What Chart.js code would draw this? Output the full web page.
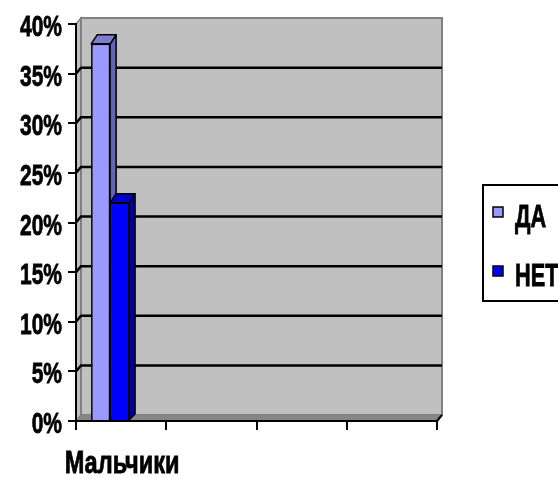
<!DOCTYPE html>
<html>
<head>
<meta charset="utf-8">
<script src="https://cdn.jsdelivr.net/npm/chart.js@4/dist/chart.umd.min.js"></script>
<style>
  html, body { margin: 0; padding: 0; background: #ffffff; }
  #wrap { width: 558px; height: 478px; }
</style>
</head>
<body>
<div id="wrap"><canvas id="chart" width="558" height="478"></canvas></div>
<script>
// Survey answers, percent of respondents
const categories = ['Мальчики', '', '', ''];
const seriesNames = ['ДА', 'НЕТ'];
const yesValues = [38, null, null, null];
const noValues = [22, null, null, null];
const yMin = 0;
const yMax = 40;
const yStep = 5;

// Narrow bold lettering: Liberation Sans squeezed horizontally
const FONT = "'Liberation Sans', Arial, sans-serif";
const NARROW = 0.7;

// Pseudo-3D look: depth offsets for the walls and for the columns
const WALL = { dx: 5, dy: -6 };
const BAR_DEPTH = { dx: 6, dy: -9 };
const BAR_SHIFT = -11;

const faceColours = [
  { front: '#9999ff', side: '#6464b4', top: '#7c7cd0' },
  { front: '#0000ff', side: '#0000a0', top: '#0000c8' }
];

function narrowText(ctx, text, x, y, size, align, squeeze) {
  ctx.save();
  ctx.font = 'bold ' + size + 'px ' + FONT;
  ctx.textBaseline = 'alphabetic';
  ctx.textAlign = align;
  ctx.fillStyle = '#000000';
  ctx.strokeStyle = '#000000';
  ctx.lineWidth = 0.8;
  ctx.translate(x, y);
  ctx.scale(squeeze, 1);
  ctx.fillText(text, 0, 0);
  ctx.strokeText(text, 0, 0);
  ctx.restore();
}

// Grey back wall, side wall, floor and the recessed gridlines
const wallsPlugin = {
  id: 'walls',
  beforeDraw(chart) {
    const { ctx, chartArea: a, scales } = chart;
    const { dx, dy } = WALL;
    ctx.save();
    // side wall
    ctx.fillStyle = '#c0c0c0';
    ctx.beginPath();
    ctx.moveTo(a.left, a.top);
    ctx.lineTo(a.left + dx, a.top + dy);
    ctx.lineTo(a.left + dx, a.bottom + dy);
    ctx.lineTo(a.left, a.bottom);
    ctx.closePath();
    ctx.fill();
    ctx.strokeStyle = '#808080';
    ctx.lineWidth = 1.5;
    ctx.stroke();
    // back wall
    ctx.fillStyle = '#c0c0c0';
    ctx.fillRect(a.left + dx, a.top + dy, a.right - a.left, a.bottom - a.top);
    ctx.strokeStyle = '#808080';
    ctx.lineWidth = 2;
    ctx.strokeRect(a.left + dx, a.top + dy, a.right - a.left, a.bottom - a.top);
    // floor
    ctx.fillStyle = '#868686';
    ctx.beginPath();
    ctx.moveTo(a.left, a.bottom);
    ctx.lineTo(a.left + dx, a.bottom + dy);
    ctx.lineTo(a.right + dx, a.bottom + dy);
    ctx.lineTo(a.right, a.bottom);
    ctx.closePath();
    ctx.fill();
    // gridlines on side wall and back wall
    ctx.strokeStyle = '#000000';
    ctx.lineWidth = 2.5;
    scales.y.ticks.forEach(t => {
      if (t.value <= yMin || t.value >= yMax) return;
      const y = scales.y.getPixelForValue(t.value);
      ctx.beginPath();
      ctx.moveTo(a.left, y);
      ctx.lineTo(a.left + dx, y + dy);
      ctx.lineTo(a.right + dx, y + dy);
      ctx.stroke();
    });
    ctx.restore();
  },
  afterDraw(chart) {
    const { ctx, chartArea: a, scales } = chart;
    ctx.save();
    ctx.strokeStyle = '#000000';
    ctx.lineWidth = 2;
    ctx.beginPath();
    ctx.moveTo(a.right, a.bottom);
    ctx.lineTo(a.right + WALL.dx, a.bottom + WALL.dy);
    ctx.stroke();
    ctx.restore();
    // axis labels
    scales.y.ticks.forEach(t => {
      const y = scales.y.getPixelForValue(t.value);
      narrowText(ctx, t.value + '%', a.left - 14, y + 12, 30, 'right', NARROW);
    });
    scales.x.getLabels().forEach((lbl, i) => {
      if (!lbl) return;
      const x = scales.x.getPixelForValue(i);
      narrowText(ctx, lbl, x + 1, a.bottom + 52, 31, 'center', 0.76);
    });
  }
};

// Columns with side and top faces, painted left to right
const columnsPlugin = {
  id: 'columns3d',
  beforeDatasetsDraw(chart) {
    chart.ctx.save();
    chart.ctx.translate(BAR_SHIFT, 0);
  },
  afterDatasetsDraw(chart) {
    const ctx = chart.ctx;
    const { dx, dy } = BAR_DEPTH;
    chart.data.datasets.forEach((ds, di) => {
      const meta = chart.getDatasetMeta(di);
      const c = faceColours[di];
      meta.data.forEach((el, i) => {
        if (ds.data[i] === null || ds.data[i] === undefined) return;
        const { x, y, base, width } = el.getProps(['x', 'y', 'base', 'width'], true);
        el.draw(ctx);
        const l = x - width / 2, r = x + width / 2;
        ctx.save();
        ctx.strokeStyle = '#000000';
        ctx.lineWidth = 1.5;
        ctx.lineJoin = 'round';
        ctx.fillStyle = c.side;
        ctx.beginPath();
        ctx.moveTo(r, y);
        ctx.lineTo(r + dx, y + dy);
        ctx.lineTo(r + dx, base + WALL.dy);
        ctx.lineTo(r, base);
        ctx.closePath();
        ctx.fill();
        ctx.stroke();
        ctx.fillStyle = c.top;
        ctx.beginPath();
        ctx.moveTo(l, y);
        ctx.lineTo(l + dx, y + dy);
        ctx.lineTo(r + dx, y + dy);
        ctx.lineTo(r, y);
        ctx.closePath();
        ctx.fill();
        ctx.stroke();
        ctx.restore();
      });
    });
    ctx.restore();
  }
};

// Boxed legend on the right
const legendBoxPlugin = {
  id: 'legendBox',
  afterDraw(chart) {
    const { ctx } = chart;
    const box = { left: 483, top: 185, width: 100, height: 116 };
    ctx.save();
    ctx.strokeStyle = '#000000';
    ctx.lineWidth = 2;
    ctx.strokeRect(box.left, box.top, box.width, box.height);
    chart.data.datasets.forEach((ds, i) => {
      const sy = box.top + 22 + i * 59;
      ctx.fillStyle = ds.backgroundColor;
      ctx.fillRect(box.left + 10, sy, 10, 10);
      ctx.strokeStyle = '#000000';
      ctx.lineWidth = 1.5;
      ctx.strokeRect(box.left + 10, sy, 10, 10);
      narrowText(ctx, ds.label, box.left + 32, sy + 20, 31, 'left', NARROW);
    });
    ctx.restore();
  }
};

new Chart(document.getElementById('chart'), {
  type: 'bar',
  data: {
    labels: categories,
    datasets: [
      { label: seriesNames[0], data: yesValues, backgroundColor: faceColours[0].front,
        borderColor: '#000000', borderWidth: 1.5 },
      { label: seriesNames[1], data: noValues, backgroundColor: faceColours[1].front,
        borderColor: '#000000', borderWidth: 1.5 }
    ]
  },
  options: {
    responsive: false,
    animation: false,
    devicePixelRatio: 1,
    categoryPercentage: 0.42,
    barPercentage: 1,
    layout: { padding: { left: 68, top: 24, right: 121, bottom: 48 } },
    plugins: {
      legend: { display: false },
      tooltip: { enabled: false }
    },
    scales: {
      x: {
        offset: true,
        grid: { offset: true, drawOnChartArea: false, drawTicks: true, tickLength: 9,
                color: '#000000', lineWidth: 2 },
        border: { display: true, color: '#000000', width: 2 },
        ticks: { display: false, autoSkip: false }
      },
      y: {
        min: yMin,
        max: yMax,
        grid: { drawOnChartArea: false, drawTicks: true, tickLength: 8,
                color: '#000000', lineWidth: 2 },
        border: { display: true, color: '#000000', width: 2 },
        ticks: { display: false, stepSize: yStep }
      }
    }
  },
  plugins: [wallsPlugin, columnsPlugin, legendBoxPlugin]
});
</script>
</body>
</html>
